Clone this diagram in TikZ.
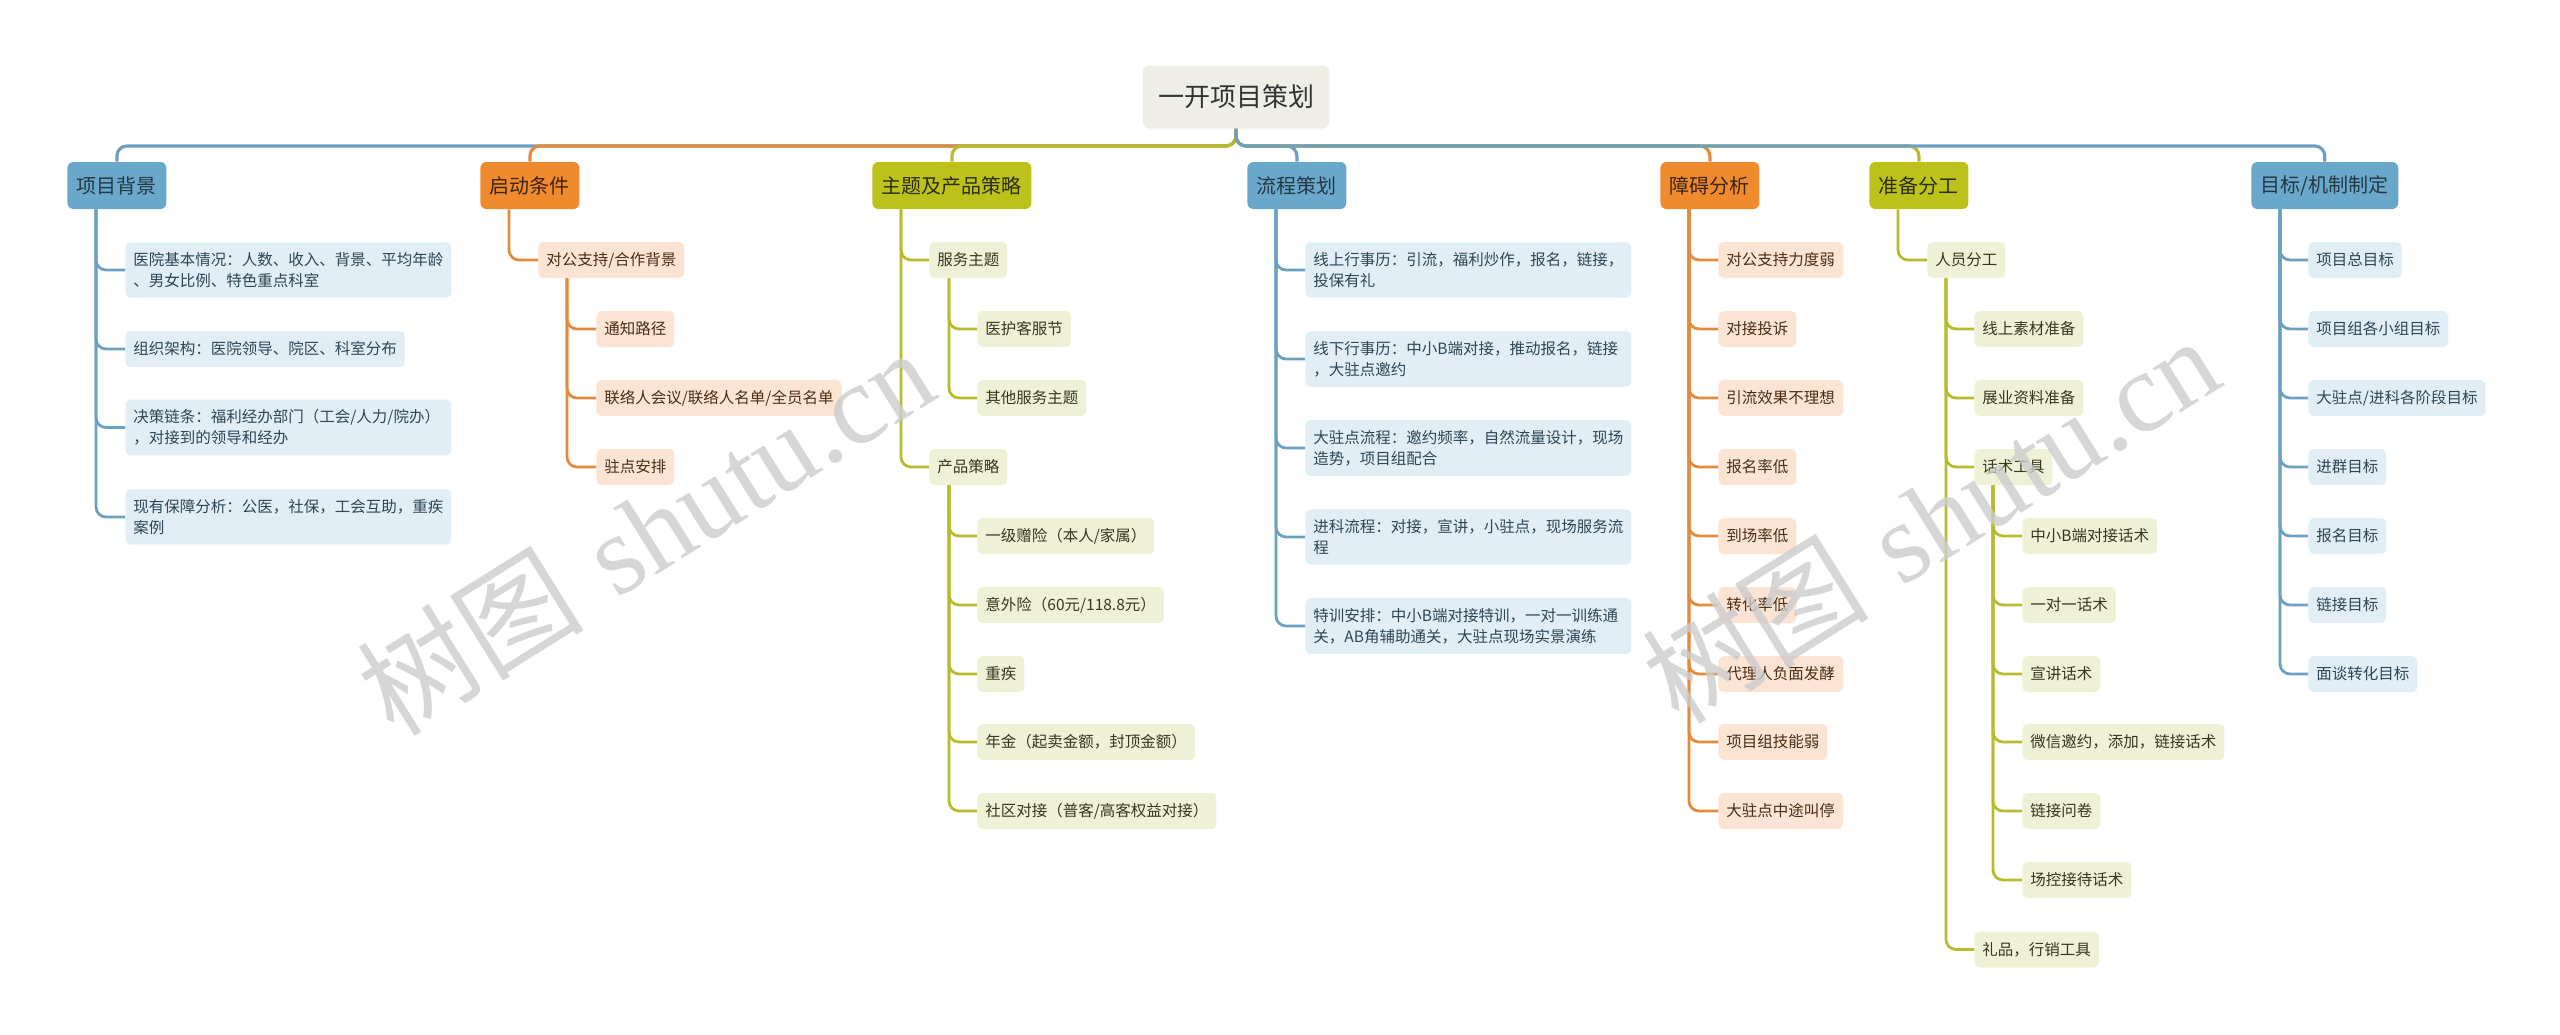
\documentclass[tikz,border=0pt]{standalone}
\usepackage{fontspec}
\newfontfamily\cjk{Noto Sans CJK SC}
\newfontfamily\wmserif{Liberation Serif}

\definecolor{bluetop}{HTML}{6AA8CB}
\definecolor{bluelight}{HTML}{E1EEF6}
\definecolor{blueline}{HTML}{6CA0C1}
\definecolor{bluetext}{HTML}{2E4656}
\definecolor{orgtop}{HTML}{F08A2F}
\definecolor{orglight}{HTML}{FCE4D4}
\definecolor{orgline}{HTML}{E48A3C}
\definecolor{orgtext}{HTML}{4A2E14}
\definecolor{olvtop}{HTML}{BDC21B}
\definecolor{olvlight}{HTML}{EFF1D6}
\definecolor{olvline}{HTML}{B7BC2C}
\definecolor{olvtext}{HTML}{36381A}
\definecolor{rootfill}{HTML}{EEEEE6}

\tikzset{
    leaf/.style={rounded corners=2.5pt, anchor=west, inner xsep=4pt, inner ysep=5pt, minimum height=18pt,
        font=\cjk\fontsize{7.75}{10.5}\selectfont},
    twoline/.style={text width=155pt, align=left},
    bleaf/.style={leaf, fill=bluelight, text=bluetext},
    oleaf/.style={leaf, fill=orglight, text=orgtext},
    gleaf/.style={leaf, fill=olvlight, text=olvtext},
    topic/.style={rounded corners=3pt, anchor=west, inner xsep=4.75pt, minimum height=23.5pt,
        font=\cjk\fontsize{10}{12}\selectfont},
    btopic/.style={topic, fill=bluetop, text=bluetext!80!black},
    otopic/.style={topic, fill=orgtop, text=orgtext!80!black},
    gtopic/.style={topic, fill=olvtop, text=olvtext!80!black},
    bline/.style={draw=blueline, line width=1.6pt, rounded corners=5pt},
    oline/.style={draw=orgline, line width=1.6pt, rounded corners=5pt},
    gline/.style={draw=olvline, line width=1.6pt, rounded corners=5pt},
    bsub/.style={draw=blueline, line width=1.4pt, rounded corners=5pt},
    osub/.style={draw=orgline, line width=1.4pt, rounded corners=5pt},
    gsub/.style={draw=olvline, line width=1.4pt, rounded corners=5pt},
    wmark/.style={text=black!20, opacity=0.8, rotate=32, font=\fontsize{57}{60}\selectfont}
}

\begin{document}
\begin{tikzpicture}[x=0.5pt, y=-0.5pt]
    \useasboundingbox (0,0) rectangle (2560,1034);

    % root and main topics
    \node[rounded corners=3pt, fill=rootfill, text=black!80, inner xsep=7.5pt, minimum height=31.5pt,
        font=\cjk\fontsize{13}{15}\selectfont] (root) at (1236,97) {一开项目策划};
    \coordinate (hub) at (1236,146);
    \node[btopic] (bg) at (67,185.5) {项目背景};
    \node[otopic] (qd) at (480,185.5) {启动条件};
    \node[gtopic] (zt) at (872,185.5) {主题及产品策略};
    \node[btopic] (lc) at (1247,185.5) {流程策划};
    \node[otopic] (za) at (1660,185.5) {障碍分析};
    \node[gtopic] (zb) at (1869,185.5) {准备分工};
    \node[btopic] (mb) at (2251,185.5) {目标/机制制定};

    \draw[bline] (root.south) -- (hub) -| (bg.north);
    \draw[oline] (root.south) -- (hub) -| (qd.north);
    \draw[gline] (root.south) -- (hub) -| (zt.north);
    \draw[bline] (root.south) -- (hub) -| (lc.north);
    \draw[oline] (root.south) -- (hub) -| (za.north);
    \draw[gline] (root.south) -- (hub) -| (zb.north);
    \draw[bline] (root.south) -- (hub) -| (mb.north);

    % 项目背景
    \node[bleaf, twoline] (bg1) at (125,270) {医院基本情况：人数、收入、背景、平均年龄\\、男女比例、特色重点科室};
    \node[bleaf] (bg2) at (125,349) {组织架构：医院领导、院区、科室分布};
    \node[bleaf, twoline] (bg3) at (125,427.5) {决策链条：福利经办部门（工会/人力/院办）\\，对接到的领导和经办};
    \node[bleaf, twoline] (bg4) at (125,517) {现有保障分析：公医，社保，工会互助，重疾\\案例};
    \draw[bsub] ([xshift=14.5pt]bg.south west) |- (bg1.west);
    \draw[bsub] ([xshift=14.5pt]bg.south west) |- (bg2.west);
    \draw[bsub] ([xshift=14.5pt]bg.south west) |- (bg3.west);
    \draw[bsub] ([xshift=14.5pt]bg.south west) |- (bg4.west);

    % 启动条件
    \node[oleaf] (qd1) at (538,260) {对公支持/合作背景};
    \node[oleaf] (qd2) at (596,329) {通知路径};
    \node[oleaf] (qd3) at (596,398) {联络人会议/联络人名单/全员名单};
    \node[oleaf] (qd4) at (596,467) {驻点安排};
    \draw[osub] ([xshift=14.5pt]qd.south west) |- (qd1.west);
    \draw[osub] ([xshift=14.5pt]qd1.south west) |- (qd2.west);
    \draw[osub] ([xshift=14.5pt]qd1.south west) |- (qd3.west);
    \draw[osub] ([xshift=14.5pt]qd1.south west) |- (qd4.west);

    % 主题及产品策略
    \node[gleaf] (zt1) at (929,260) {服务主题};
    \node[gleaf] (zt2) at (977,329) {医护客服节};
    \node[gleaf] (zt3) at (977,398) {其他服务主题};
    \node[gleaf] (zt4) at (929,467) {产品策略};
    \node[gleaf] (zt5) at (977,536) {一级赠险（本人/家属）};
    \node[gleaf] (zt6) at (977,605) {意外险（60元/118.8元）};
    \node[gleaf] (zt7) at (977,674) {重疾};
    \node[gleaf] (zt8) at (977,742) {年金（起卖金额，封顶金额）};
    \node[gleaf] (zt9) at (977,811) {社区对接（普客/高客权益对接）};
    \draw[gsub] ([xshift=14.5pt]zt.south west) |- (zt1.west);
    \draw[gsub] ([xshift=14.5pt]zt.south west) |- (zt4.west);
    \draw[gsub] ([xshift=10pt]zt1.south west) |- (zt2.west);
    \draw[gsub] ([xshift=10pt]zt1.south west) |- (zt3.west);
    \draw[gsub] ([xshift=10pt]zt4.south west) |- (zt5.west);
    \draw[gsub] ([xshift=10pt]zt4.south west) |- (zt6.west);
    \draw[gsub] ([xshift=10pt]zt4.south west) |- (zt7.west);
    \draw[gsub] ([xshift=10pt]zt4.south west) |- (zt8.west);
    \draw[gsub] ([xshift=10pt]zt4.south west) |- (zt9.west);

    % 流程策划
    \node[bleaf, twoline] (lc1) at (1305,270) {线上行事历：引流，福利炒作，报名，链接，\\投保有礼};
    \node[bleaf, twoline] (lc2) at (1305,359) {线下行事历：中小B端对接，推动报名，链接\\，大驻点邀约};
    \node[bleaf, twoline] (lc3) at (1305,448) {大驻点流程：邀约频率，自然流量设计，现场\\造势，项目组配合};
    \node[bleaf, twoline] (lc4) at (1305,537) {进科流程：对接，宣讲，小驻点，现场服务流\\程};
    \node[bleaf, twoline] (lc5) at (1305,626) {特训安排：中小B端对接特训，一对一训练通\\关，AB角辅助通关，大驻点现场实景演练};
    \draw[bsub] ([xshift=14.5pt]lc.south west) |- (lc1.west);
    \draw[bsub] ([xshift=14.5pt]lc.south west) |- (lc2.west);
    \draw[bsub] ([xshift=14.5pt]lc.south west) |- (lc3.west);
    \draw[bsub] ([xshift=14.5pt]lc.south west) |- (lc4.west);
    \draw[bsub] ([xshift=14.5pt]lc.south west) |- (lc5.west);

    % 障碍分析
    \node[oleaf] (za1) at (1718,260) {对公支持力度弱};
    \node[oleaf] (za2) at (1718,329) {对接投诉};
    \node[oleaf] (za3) at (1718,398) {引流效果不理想};
    \node[oleaf] (za4) at (1718,467) {报名率低};
    \node[oleaf] (za5) at (1718,536) {到场率低};
    \node[oleaf] (za6) at (1718,605) {转化率低};
    \node[oleaf] (za7) at (1718,674) {代理人负面发酵};
    \node[oleaf] (za8) at (1718,742) {项目组技能弱};
    \node[oleaf] (za9) at (1718,811) {大驻点中途叫停};
    \draw[osub] ([xshift=14.5pt]za.south west) |- (za1.west);
    \draw[osub] ([xshift=14.5pt]za.south west) |- (za2.west);
    \draw[osub] ([xshift=14.5pt]za.south west) |- (za3.west);
    \draw[osub] ([xshift=14.5pt]za.south west) |- (za4.west);
    \draw[osub] ([xshift=14.5pt]za.south west) |- (za5.west);
    \draw[osub] ([xshift=14.5pt]za.south west) |- (za6.west);
    \draw[osub] ([xshift=14.5pt]za.south west) |- (za7.west);
    \draw[osub] ([xshift=14.5pt]za.south west) |- (za8.west);
    \draw[osub] ([xshift=14.5pt]za.south west) |- (za9.west);

    % 准备分工
    \node[gleaf] (zb1) at (1927,260) {人员分工};
    \node[gleaf] (zb2) at (1974,329) {线上素材准备};
    \node[gleaf] (zb3) at (1974,398) {展业资料准备};
    \node[gleaf] (zb4) at (1974,467) {话术工具};
    \node[gleaf] (zb5) at (2022,536) {中小B端对接话术};
    \node[gleaf] (zb6) at (2022,605) {一对一话术};
    \node[gleaf] (zb7) at (2022,674) {宣讲话术};
    \node[gleaf] (zb8) at (2022,742) {微信邀约，添加，链接话术};
    \node[gleaf] (zb9) at (2022,811) {链接问卷};
    \node[gleaf] (zb10) at (2022,880) {场控接待话术};
    \node[gleaf] (zb11) at (1974,949.5) {礼品，行销工具};
    \draw[gsub] ([xshift=14.5pt]zb.south west) |- (zb1.west);
    \draw[gsub] ([xshift=9.5pt]zb1.south west) |- (zb2.west);
    \draw[gsub] ([xshift=9.5pt]zb1.south west) |- (zb3.west);
    \draw[gsub] ([xshift=9.5pt]zb1.south west) |- (zb4.west);
    \draw[gsub] ([xshift=9.5pt]zb1.south west) |- (zb11.west);
    \draw[gsub] ([xshift=9.5pt]zb4.south west) |- (zb5.west);
    \draw[gsub] ([xshift=9.5pt]zb4.south west) |- (zb6.west);
    \draw[gsub] ([xshift=9.5pt]zb4.south west) |- (zb7.west);
    \draw[gsub] ([xshift=9.5pt]zb4.south west) |- (zb8.west);
    \draw[gsub] ([xshift=9.5pt]zb4.south west) |- (zb9.west);
    \draw[gsub] ([xshift=9.5pt]zb4.south west) |- (zb10.west);

    % 目标/机制制定
    \node[bleaf] (mb1) at (2308,260) {项目总目标};
    \node[bleaf] (mb2) at (2308,329) {项目组各小组目标};
    \node[bleaf] (mb3) at (2308,398) {大驻点/进科各阶段目标};
    \node[bleaf] (mb4) at (2308,467) {进群目标};
    \node[bleaf] (mb5) at (2308,536) {报名目标};
    \node[bleaf] (mb6) at (2308,605) {链接目标};
    \node[bleaf] (mb7) at (2308,674) {面谈转化目标};
    \draw[bsub] ([xshift=14.5pt]mb.south west) |- (mb1.west);
    \draw[bsub] ([xshift=14.5pt]mb.south west) |- (mb2.west);
    \draw[bsub] ([xshift=14.5pt]mb.south west) |- (mb3.west);
    \draw[bsub] ([xshift=14.5pt]mb.south west) |- (mb4.west);
    \draw[bsub] ([xshift=14.5pt]mb.south west) |- (mb5.west);
    \draw[bsub] ([xshift=14.5pt]mb.south west) |- (mb6.west);
    \draw[bsub] ([xshift=14.5pt]mb.south west) |- (mb7.west);

    % watermark
    \node[wmark] (wm1) at (645,531) {{\cjk 树图} {\wmserif shutu.cn}};
    \node[wmark] (wm2) at (1930,519) {{\cjk 树图} {\wmserif shutu.cn}};
\end{tikzpicture}
\end{document}
